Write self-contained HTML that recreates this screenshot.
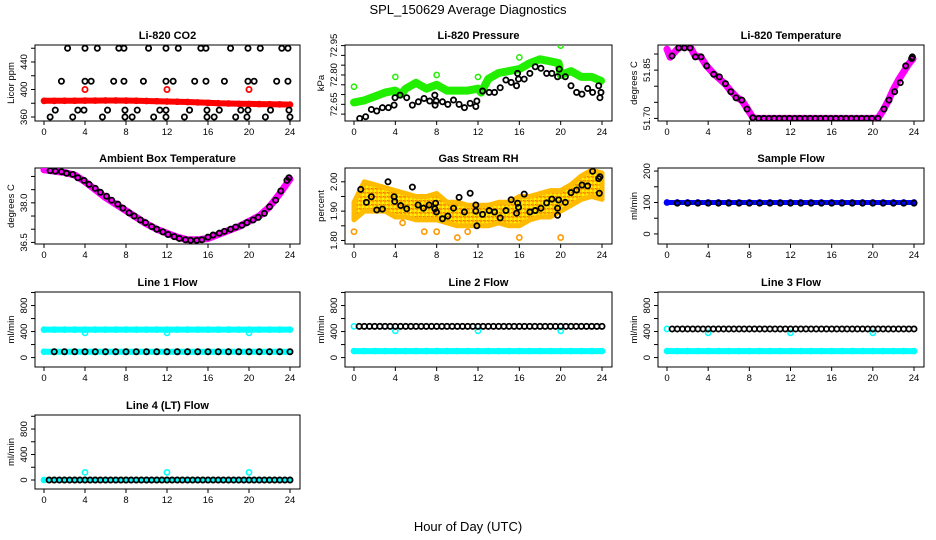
<!DOCTYPE html>
<html><head><meta charset="utf-8"><title>SPL_150629 Average Diagnostics</title>
<style>
html,body{margin:0;padding:0;background:#fff;}
svg{display:block;font-family:"Liberation Sans",Arial,sans-serif;}
</style></head>
<body>
<svg id="chart" width="936" height="540" viewBox="0 0 936 540" xmlns="http://www.w3.org/2000/svg">
<defs>
<pattern id="rhpat" width="4" height="4" patternUnits="userSpaceOnUse">
<rect width="4" height="4" fill="#ffcc00"/><rect x="0" y="0" width="2" height="2" fill="#ff9900"/><rect x="2" y="2" width="2" height="2" fill="#ffee00"/><rect x="3" y="0" width="1" height="1" fill="#ff6600"/>
</pattern>
</defs>
<text x="468" y="14" text-anchor="middle" font-size="13">SPL_150629  Average Diagnostics</text>
<text x="468" y="531" text-anchor="middle" font-size="13">Hour of Day (UTC)</text>
</svg>
<script>
// ---------- data ----------
const H25=[0,1,2,3,4,5,6,7,8,9,10,11,12,13,14,15,16,17,18,19,20,21,22,23,24];
// CO2
const co2BandVals=[383.5,383.5,383.6,383.7,383.8,383.9,384,384,383.8,383.6,383.3,383,382.6,382.2,381.8,381.2,380.6,380,379.6,379.2,379,378.8,378.6,378.4,378];
const co2HighHours=[2.3,4.0,5.2,7.3,7.8,10.2,11.9,13.1,15.3,15.8,18.2,19.9,21.1,23.2,23.8];
const co2HighVals=[460,460,460,460,460,460,460,460,460,460,460,460,460,460,460];
const co2MidHours=[1.7,4.0,4.6,6.8,7.8,9.7,11.9,12.6,14.7,15.8,17.6,19.9,20.5,22.7,23.8];
const co2MidVals=[412,412,412,412,412,412,412,412,412,412,412,412,412,412,412];
const co2LowHours=[1.1,3.3,3.9,6.2,7.9,9.1,11.3,11.9,14.2,15.9,17.1,19.2,19.9,22.1,23.9];
const co2LowVals=[370,370,370,370,370,370,370,370,370,370,370,370,370,370,370];
const co2MinHours=[0.6,2.8,5.7,7.9,8.6,10.7,11.9,13.7,15.9,16.6,18.7,19.8,21.6,24.0];
const co2MinVals=[360,360,360,360,360,360,360,360,360,360,360,360,360,360];
const co2OutHours=[4,12,20];
const co2OutVals=[400,400,400];
// Pressure
const prBandHours=[0,1,2,3,4,4.5,5,6,7,8,9,10,11,12,12.3,13,14,15,16,17,18,19,19.8,20,21,22,23,23.9];
const prBandVals=[72.66,72.67,72.69,72.71,72.72,72.70,72.73,72.76,72.73,72.75,72.72,72.72,72.72,72.73,72.71,72.78,72.81,72.82,72.83,72.86,72.88,72.87,72.86,72.80,72.82,72.79,72.79,72.77];
const prOutHours=[0,4,8,12,16,20];
const prOutVals=[72.74,72.79,72.80,72.79,72.89,72.95];
const prBlackHours=[0.55,1.13,1.68,2.2,2.75,3.33,3.88,3.97,4.46,5.1,5.65,6.23,6.78,7.33,7.82,7.85,7.95,8.56,9.08,9.63,10.17,10.69,11.24,11.79,11.89,12.44,13.08,13.6,14.15,14.7,15.21,15.73,15.83,15.92,16.47,17.02,17.54,18.09,18.64,19.15,19.7,19.86,20.45,21.0,21.54,22.06,22.61,23.09,23.68,23.8,23.9];
const prBlackVals=[72.578,72.587,72.624,72.616,72.633,72.633,72.646,72.684,72.697,72.684,72.646,72.663,72.680,72.667,72.697,72.646,72.667,72.663,72.650,72.672,72.650,72.633,72.655,72.639,72.667,72.718,72.711,72.711,72.735,72.774,72.762,72.745,72.808,72.779,72.779,72.808,72.842,72.834,72.808,72.808,72.791,72.830,72.791,72.745,72.711,72.702,72.731,72.711,72.745,72.684,72.711];
// Li-820 temperature
const ltBandHours=[0,0.3,1,1.5,2.3,2.7,3.3,3.8,4.5,5.2,5.7,6.2,6.8,7.3,7.8,8.3,8.6,12,16,20.5,21,21.5,22,22.5,23,23.5,23.9];
const ltBandVals=[51.915,51.89,51.915,51.925,51.92,51.895,51.89,51.865,51.84,51.82,51.805,51.785,51.765,51.755,51.73,51.705,51.70,51.70,51.70,51.70,51.725,51.755,51.79,51.82,51.845,51.87,51.885];
const ltBlackHours=[0.49,1.14,1.69,2.24,2.76,3.31,3.86,4.54,5.09,5.68,6.2,6.71,7.27,7.78,8.34,8.9,9.4,9.9,10.4,10.9,11.4,11.9,12.4,12.9,13.4,13.9,14.4,14.9,15.4,15.9,16.4,16.9,17.4,17.9,18.4,18.9,19.4,19.9,20.5,21.08,21.57,22.12,22.67,23.19,23.77,23.84];
const ltBlackVals=[51.894,51.919,51.919,51.919,51.891,51.891,51.863,51.837,51.829,51.808,51.783,51.764,51.757,51.729,51.702,51.70,51.70,51.70,51.70,51.70,51.70,51.70,51.70,51.70,51.70,51.70,51.70,51.70,51.70,51.70,51.70,51.70,51.70,51.70,51.70,51.70,51.70,51.70,51.70,51.729,51.757,51.783,51.811,51.863,51.886,51.891];
// Ambient box temperature
const abBandVals=[39.25,39.2,39.15,39.05,38.8,38.5,38.2,37.95,37.7,37.45,37.2,37.0,36.85,36.7,36.6,36.6,36.65,36.8,36.95,37.1,37.3,37.5,37.85,38.35,38.9];
const abBlackHours=[0.6,1.1,1.7,2.2,2.8,3.3,3.9,4.4,5,5.5,6.1,6.6,7.2,7.7,8.3,8.8,9.4,9.9,10.5,11,11.6,12.1,12.7,13.2,13.8,14.3,14.9,15.4,16,16.5,17.1,17.6,18.2,18.7,19.3,19.8,20.4,20.9,21.5,22,22.6,23.1,23.7,23.9];
const abBlackVals=[39.22,39.2,39.18,39.12,39.08,38.95,38.85,38.7,38.55,38.4,38.25,38.1,37.95,37.8,37.62,37.5,37.35,37.25,37.1,37.0,36.9,36.8,36.72,36.65,36.6,36.58,36.58,36.6,36.7,36.78,36.85,36.92,37.0,37.08,37.15,37.25,37.35,37.45,37.6,37.85,38.1,38.45,38.85,38.95];
// Gas stream RH
const rhLow=[1.87,1.90,1.90,1.90,1.88,1.88,1.87,1.87,1.87,1.86,1.85,1.85,1.85,1.85,1.86,1.85,1.85,1.87,1.88,1.88,1.90,1.92,1.94,1.95,1.94];
const rhHigh=[1.93,2.00,1.99,1.98,1.97,1.96,1.95,1.95,1.96,1.93,1.93,1.92,1.92,1.92,1.93,1.93,1.95,1.95,1.96,1.97,1.97,1.99,2.02,2.04,2.03];
const rhOutHours=[0,4.7,6.8,8,10,11,16,20];
const rhOutVals=[1.83,1.86,1.83,1.83,1.81,1.83,1.81,1.81];
const rhBlackHours=[0.65,1.2,1.68,2.2,2.75,3.29,3.88,3.94,4.52,5.1,5.65,6.2,6.72,7.27,7.82,7.9,7.98,8.56,9.08,9.63,10.17,10.69,11.24,11.79,11.79,11.89,12.44,13.08,13.6,14.15,14.7,15.21,15.73,15.83,15.92,16.47,17.02,17.54,18.09,18.64,19.15,19.7,19.7,19.8,20.45,21.0,21.54,22.06,22.61,23.09,23.68,23.8,23.74];
const rhBlackVals=[1.974,1.93,1.949,1.904,1.907,2.0,1.949,1.933,1.919,1.908,1.982,1.921,1.91,1.921,1.908,1.927,1.897,1.874,1.883,1.91,1.947,1.897,1.961,1.921,1.9,1.85,1.889,1.902,1.897,1.877,1.902,1.939,1.893,1.927,1.913,1.958,1.897,1.902,1.91,1.928,1.941,1.91,1.886,1.938,1.93,1.963,1.972,1.989,1.986,2.036,2.011,2.017,1.961];
// Flows (hourly)
const sfBlue=[100,100,100,100,100,100,100,100,100,100,100,100,100,100,100,100,100,100,100,100,100,100,100,100,100];
const sfBlack=[98,98,98,98,98,98,98,98,98,98,98,98,98,98,98,98,98,98,98,98,98,98,98,98,98];
const l1Cyan=[430,430,430,430,430,430,430,430,430,430,430,430,430,430,430,430,430,430,430,430,430,430,430,430,430];
const l1Black=[90,90,90,90,90,90,90,90,90,90,90,90,90,90,90,90,90,90,90,90,90,90,90,90,90];
const l2Cyan=[100,100,100,100,100,100,100,100,100,100,100,100,100,100,100,100,100,100,100,100,100,100,100,100,100];
const l2Black=[480,480,480,480,480,480,480,480,480,480,480,480,480,480,480,480,480,480,480,480,480,480,480,480,480];
const l3Cyan=[100,100,100,100,100,100,100,100,100,100,100,100,100,100,100,100,100,100,100,100,100,100,100,100,100];
const l3Black=[440,440,440,440,440,440,440,440,440,440,440,440,440,440,440,440,440,440,440,440,440,440,440,440,440];
const l4Cyan=[0,0,0,0,0,0,0,0,0,0,0,0,0,0,0,0,0,0,0,0,0,0,0,0,0];
const l4Black=[0,0,0,0,0,0,0,0,0,0,0,0,0,0,0,0,0,0,0,0,0,0,0,0,0];
const spikeHours=[4,12,20];
const l1Spike=[380,380,380];
const l2Spike=[410,410,410];
const l3Spike=[380,380,380];
const l4Spike=[120,120,120];
const xTicks=[0,4,8,12,16,20,24];

// ---------- drawing ----------
const NS='http://www.w3.org/2000/svg';
const svg=document.getElementById('chart');
function mk(tag,attrs,parent){const e=document.createElementNS(NS,tag);for(const k in attrs)e.setAttribute(k,attrs[k]);(parent||svg).appendChild(e);return e;}
const COLS=[[35,300],[345,612],[658,924]];
const ROWS=[[45,121],[168,244],[292,367],[415,489]];

function panel(col,row,title,ylab,dom,ticks,labels,name){
  const [x0,x1]=COLS[col],[y0,y1]=ROWS[row];
  const g=mk('g',{});
  
  
  const sx=h=>x0+9+h*(x1-x0-19)/24;
  const sy=v=>y1-(v-dom[0])/(dom[1]-dom[0])*(y1-y0);
  const t=mk('text',{x:(x0+x1)/2,y:y0-6,'text-anchor':'middle','font-size':11,'font-weight':'bold'},g);
  t.textContent=title;
  
  
  const box=mk('rect',{x:x0,y:y0,width:x1-x0,height:y1-y0,fill:'none',stroke:'#000','stroke-width':1},g);
  
  
  const xa=mk('g',{},g);
  
  
  xTicks.forEach(h=>{
    mk('line',{x1:sx(h),x2:sx(h),y1:y1,y2:y1+4,stroke:'#000'},xa);
    const l=mk('text',{x:sx(h),y:y1+14,'text-anchor':'middle','font-size':9.5},xa);
    l.textContent=h;
    
    
  });
  const ya=mk('g',{},g);
  
  
  ticks.forEach(v=>{mk('line',{x1:x0-4,x2:x0,y1:sy(v),y2:sy(v),stroke:'#000'},ya);});
  labels.forEach(v=>{
    const yy=sy(parseFloat(v));
    const l=mk('text',{x:x0-8,y:yy,'text-anchor':'middle','font-size':9.5,transform:`rotate(-90 ${x0-8} ${yy})`},ya);
    l.textContent=v;
    
    
  });
  const yt=mk('text',{x:x0-21,y:(y0+y1)/2,'text-anchor':'middle','font-size':9.5,transform:`rotate(-90 ${x0-21} ${(y0+y1)/2})`},g);
  yt.textContent=ylab;
  
  
  const cl=mk('clipPath',{id:'clip-'+name},g);
  mk('rect',{x:x0,y:y0,width:x1-x0,height:y1-y0},cl);
  const pg=mk('g',{'clip-path':`url(#clip-${name})`},g);
  
  
  return {sx,sy,g:pg};
}
function band(P,hours,vals,color,w,name){
  const pts=hours.map((h,i)=>P.sx(h).toFixed(1)+','+P.sy(vals[i]).toFixed(1)).join(' ');
  const pl=mk('polyline',{points:pts,fill:'none',stroke:color,'stroke-width':w,'stroke-linejoin':'round','stroke-linecap':'round'},P.g);
  
  
  hours.forEach((h,i)=>{
    const c=mk('circle',{cx:P.sx(h),cy:P.sy(vals[i]),r:2.6,fill:'none',stroke:color,'stroke-width':1.5},P.g);
    
    
  });
}
function pts(P,hours,vals,color,name,sw){
  hours.forEach((h,i)=>{
    const c=mk('circle',{cx:P.sx(h),cy:P.sy(vals[i]),r:2.6,fill:'none',stroke:color,'stroke-width':sw||1.8},P.g);
    
    
  });
}

// CO2
let P=panel(0,0,'Li-820 CO2','Licor ppm',[354.2,464.7],[360,380,400,420,440,460],['360','400','440'],'co2');
band(P,H25,co2BandVals,'#ff0000',6,'co2-red-band');
pts(P,co2OutHours,co2OutVals,'#ff0000','co2-red-outlier');
pts(P,co2HighHours,co2HighVals,'#000','co2-black-point');
pts(P,co2MidHours,co2MidVals,'#000','co2-black-point');
pts(P,co2LowHours,co2LowVals,'#000','co2-black-point');
pts(P,co2MinHours,co2MinVals,'#000','co2-black-point');
// Pressure
P=panel(1,0,'Li-820 Pressure','kPa',[72.565,72.953],[72.60,72.65,72.70,72.75,72.80,72.85,72.90,72.95],['72.65','72.80','72.95'],'pressure');
band(P,prBandHours,prBandVals,'#22ee00',8,'pressure-green-band');
pts(P,prOutHours,prOutVals,'#22ee00','pressure-green-outlier',1.5);
pts(P,prBlackHours,prBlackVals,'#000','pressure-black-point');
// Li-820 temp
P=panel(2,0,'Li-820 Temperature','degrees C',[51.692,51.928],[51.70,51.75,51.80,51.85,51.90],['51.70','51.85'],'li820-temp');
band(P,ltBandHours,ltBandVals,'#ff00ff',7,'li820-temp-magenta-band');
pts(P,ltBlackHours,ltBlackVals,'#000','li820-temp-black-point');
// Ambient
P=panel(0,1,'Ambient Box Temperature','degrees C',[36.44,39.32],[36.5,37,37.5,38,38.5,39],['36.5','38.0'],'ambient-temp');
band(P,H25,abBandVals,'#ff00ff',7,'ambient-magenta-band');
pts(P,abBlackHours,abBlackVals,'#000','ambient-black-point');
// RH
P=panel(1,1,'Gas Stream RH','percent',[1.788,2.047],[1.80,1.85,1.90,1.95,2.00],['1.80','1.90','2.00'],'gas-rh');
{
  const up=H25.map((h,i)=>P.sx(h).toFixed(1)+','+P.sy(rhHigh[i]).toFixed(1));
  const dn=H25.map((h,i)=>P.sx(h).toFixed(1)+','+P.sy(rhLow[i]).toFixed(1)).reverse();
  const pg=mk('polygon',{points:up.concat(dn).join(' '),fill:'url(#rhpat)',stroke:'#ffbb00','stroke-width':5,'stroke-linejoin':'round'},P.g);
  
  
}
pts(P,rhOutHours,rhOutVals,'#ff9900','gas-rh-orange-outlier',1.6);
pts(P,rhBlackHours,rhBlackVals,'#000','gas-rh-black-point');
// Sample flow
P=panel(2,1,'Sample Flow','ml/min',[-32,209.7],[0,50,100,150,200],['0','100','200'],'sample-flow');
band(P,H25,sfBlue,'#0000ff',5,'sample-flow-blue-band');
pts(P,H25.slice(1),sfBlack.slice(1),'#000','sample-flow-black-point');
// Line flows
const fT=[0,200,400,600,800,1000],fL=['0','400','800'];
P=panel(0,2,'Line 1 Flow','ml/min',[-145,1008],fT,fL,'line1-flow');
band(P,H25,l1Cyan,'#00ffff',6,'line1-cyan-band');
pts(P,spikeHours,l1Spike,'#00ffff','line1-cyan-outlier',1.6);
band(P,H25,l1Black,'#00ffff',6,'line1-cyan-low-band');
pts(P,H25.slice(1),l1Black.slice(1),'#000','line1-black-point');
P=panel(1,2,'Line 2 Flow','ml/min',[-145,1008],fT,fL,'line2-flow');
band(P,H25,l2Cyan,'#00ffff',6,'line2-cyan-band');
pts(P,spikeHours,l2Spike,'#00ffff','line2-cyan-outlier',1.6);
pts(P,[0],[l2Black[0]],'#00ffff','line2-cyan-start',1.6);
pts(P,H25.slice(1),l2Black.slice(1),'#000','line2-black-point');
pts(P,H25.slice(1).map(h=>h-0.5),l2Black.slice(1),'#000','line2-black-point');
P=panel(2,2,'Line 3 Flow','ml/min',[-145,1008],fT,fL,'line3-flow');
band(P,H25,l3Cyan,'#00ffff',6,'line3-cyan-band');
pts(P,spikeHours,l3Spike,'#00ffff','line3-cyan-outlier',1.6);
pts(P,[0],[l3Black[0]],'#00ffff','line3-cyan-start',1.6);
pts(P,H25.slice(1),l3Black.slice(1),'#000','line3-black-point');
pts(P,H25.slice(1).map(h=>h-0.5),l3Black.slice(1),'#000','line3-black-point');
P=panel(0,3,'Line 4 (LT) Flow','ml/min',[-141,1020],fT,fL,'line4-flow');
band(P,H25,l4Cyan,'#00ffff',5,'line4-cyan-band');
pts(P,spikeHours,l4Spike,'#00ffff','line4-cyan-outlier',1.6);
pts(P,H25.slice(1),l4Black.slice(1),'#000','line4-black-point');
pts(P,H25.slice(1).map(h=>h-0.5),l4Black.slice(1),'#000','line4-black-point');
</script>
</body></html>
